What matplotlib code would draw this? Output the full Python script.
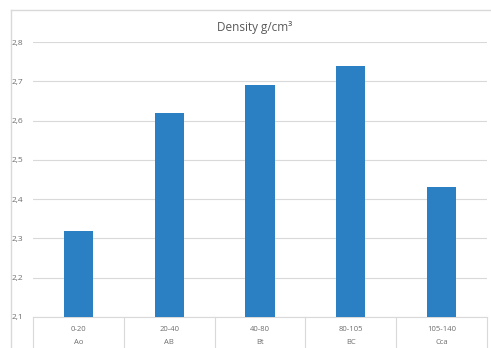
import matplotlib
matplotlib.use("Agg")
import matplotlib.pyplot as plt
from matplotlib.lines import Line2D
from matplotlib.ticker import FuncFormatter
import numpy as np

# data
depths = ["0-20", "20-40", "40-80", "80-105", "105-140"]
horizons = ["Ao", "AB", "Bt", "BC", "Cca"]
density = [2.32, 2.62, 2.69, 2.74, 2.43]

plt.rcParams['font.family'] = ['Open Sans', 'DejaVu Sans']
grey_txt = "#6e6e6e"
line_col = "#d9d9d9"

fig = plt.figure(figsize=(4.91, 3.48), dpi=100)
# outer chart frame: only the top and left edges are inside the picture
fx, fy = 11/491, 1 - 10/348
fig.lines.append(Line2D([fx, 1.0], [fy, fy], transform=fig.transFigure,
                        color=line_col, linewidth=1.0))
fig.lines.append(Line2D([fx, fx], [0.0, fy], transform=fig.transFigure,
                        color=line_col, linewidth=1.0))

ax = fig.add_axes([33/491, 1 - 317/348, 454/491, 275/348])
x = np.arange(len(depths))
ax.bar(x, density, width=0.32, color="#2b7fc3", zorder=3)

ax.set_xlim(-0.5, len(depths) - 0.5)
ax.set_ylim(2.1, 2.8)
ax.set_yticks(np.arange(2.1, 2.81, 0.1))
ax.yaxis.set_major_formatter(FuncFormatter(lambda v, p: ("%.1f" % v).replace(".", ",")))
ax.tick_params(axis="y", length=0, labelsize=6, labelcolor=grey_txt, pad=7)
ax.set_xticks([])
ax.grid(axis="y", color=line_col, linewidth=0.8, zorder=0)
for s in ["top", "right", "left"]:
    ax.spines[s].set_visible(False)
ax.spines["bottom"].set_color(line_col)
ax.spines["bottom"].set_linewidth(0.8)

# two-level category table under the axis
for b in np.arange(-0.5, len(depths), 1.0):
    ax.plot([b, b], [0, -0.2], transform=ax.get_xaxis_transform(),
            color=line_col, linewidth=0.8, clip_on=False)
for i in range(len(depths)):
    ax.text(i, -0.047, depths[i], transform=ax.get_xaxis_transform(),
            ha="center", va="center", fontsize=5.5, color=grey_txt)
    ax.text(i, -0.091, horizons[i], transform=ax.get_xaxis_transform(),
            ha="center", va="center", fontsize=5.5, color=grey_txt)

fig.text(255/491, 1 - 28/348, "Density g/cm³", ha="center", va="center",
         fontsize=8.5, color="#595959")

fig.savefig("out.png", dpi=100)
